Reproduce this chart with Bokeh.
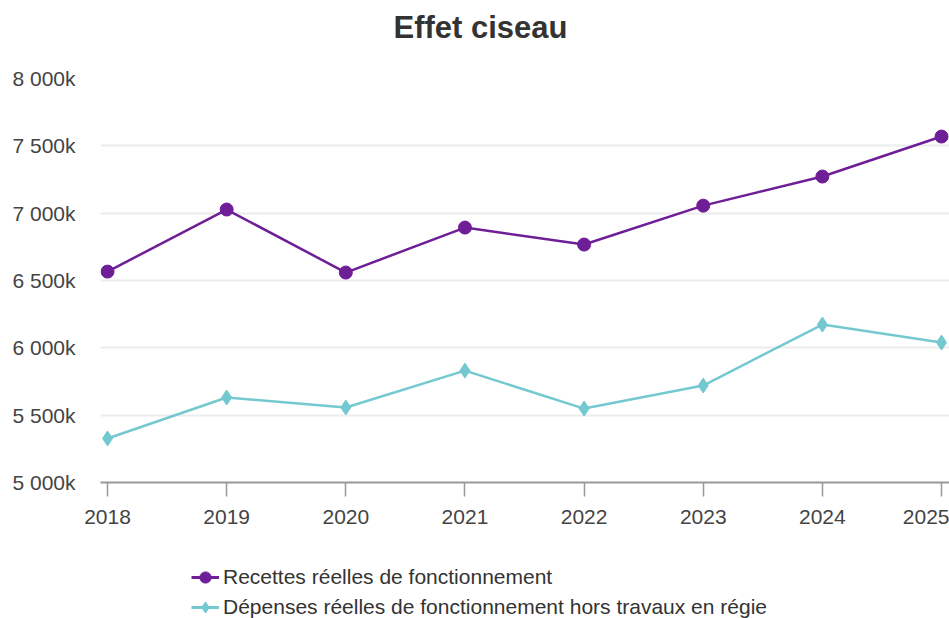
from bokeh.plotting import figure
from bokeh.layouts import column
from bokeh.models import FixedTicker, Legend, LegendItem, Range1d, Label
from bokeh.embed import file_html
from bokeh.resources import INLINE

years = [2018, 2019, 2020, 2021, 2022, 2023, 2024, 2025]
year_labels = ["2018", "2019", "2020", "2021", "2022", "2023", "2024", "2025"]
recettes = [6566, 7027, 6559, 6893, 6767, 7056, 7272, 7569]
depenses = [5327, 5631, 5557, 5831, 5549, 5720, 6173, 6039]
y_ticks = [5000, 5500, 6000, 6500, 7000, 7500, 8000]
y_tick_labels = ["5 000k", "5 500k", "6 000k", "6 500k", "7 000k", "7 500k", "8 000k"]
title_text = "Effet ciseau"
name_recettes = "Recettes réelles de fonctionnement"
name_depenses = "Dépenses réelles de fonctionnement hors travaux en régie"

PURPLE = "#6e1e97"
TEAL = "#74c8d0"
FONT = "Liberation Sans"


def blank(height):
    f = figure(width=949, height=height, output_backend="svg", toolbar_location=None,
               x_range=Range1d(0, 1), y_range=Range1d(0, 1),
               min_border_left=100, min_border_right=0, min_border_top=0,
               min_border_bottom=0)
    f.axis.visible = False
    f.grid.visible = False
    f.outline_line_color = None
    return f


# header with title
h = blank(60)
h.add_layout(Label(x=380, y=33, x_units="screen", y_units="screen", text=title_text,
                   text_align="center", text_baseline="middle", text_font=FONT,
                   text_font_size="31px", text_font_style="bold", text_color="#333333"))

# main chart
p = figure(width=949, height=480, output_backend="svg", toolbar_location=None,
           x_range=Range1d(2017.941, 2025.067), y_range=Range1d(5000, 8000),
           min_border_left=100, min_border_right=0, min_border_top=18,
           min_border_bottom=58)
p.outline_line_color = None
p.background_fill_color = "white"

p.xaxis.ticker = FixedTicker(ticks=years)
p.xaxis.major_label_overrides = {y: l for y, l in zip(years, year_labels)}
p.xaxis.axis_line_color = "#999999"
p.xaxis.axis_line_width = 2
p.xaxis.major_tick_line_color = "#999999"
p.xaxis.major_tick_line_width = 1.5
p.xaxis.major_tick_out = 14
p.xaxis.major_tick_in = 0
p.xaxis.minor_tick_line_color = None
p.xaxis.major_label_standoff = 13
p.xaxis.major_label_text_font = FONT
p.xaxis.major_label_text_font_size = "21px"
p.xaxis.major_label_text_color = "#444444"

p.yaxis.ticker = FixedTicker(ticks=y_ticks)
p.yaxis.major_label_overrides = {t: l for t, l in zip(y_ticks, y_tick_labels)}
p.yaxis.axis_line_color = None
p.yaxis.major_tick_line_color = None
p.yaxis.minor_tick_line_color = None
p.yaxis.major_label_standoff = 19
p.yaxis.major_label_text_font = FONT
p.yaxis.major_label_text_font_size = "21px"
p.yaxis.major_label_text_color = "#444444"

p.xgrid.grid_line_color = None
p.ygrid.grid_line_color = "#ececec"
p.ygrid.grid_line_width = 2

p.line(years, recettes, line_color=PURPLE, line_width=2.5)
p.scatter(years, recettes, marker="circle", size=13, fill_color=PURPLE, line_color=PURPLE)
p.line(years, depenses, line_color=TEAL, line_width=2.5)
p.scatter(years, depenses, marker="diamond", size=15, fill_color=TEAL, line_color=TEAL)

# legend panel (series drawn out of view, only for the legend glyphs)
q = blank(78)
ql1 = q.line(years, recettes, line_color=PURPLE, line_width=3)
qs1 = q.scatter(years, recettes, marker="circle", size=13, fill_color=PURPLE, line_color=PURPLE)
ql2 = q.line(years, depenses, line_color=TEAL, line_width=3)
qs2 = q.scatter(years, depenses, marker="diamond", size=15, fill_color=TEAL, line_color=TEAL)

legend = Legend(items=[LegendItem(label=name_recettes, renderers=[ql1, qs1]),
                       LegendItem(label=name_depenses, renderers=[ql2, qs2])],
                location=(91, -4), orientation="vertical",
                padding=0, margin=0, spacing=0, border_line_color=None,
                background_fill_alpha=0, glyph_width=28, glyph_height=30,
                label_height=30, label_standoff=4,
                label_text_font=FONT, label_text_font_size="21px",
                label_text_color="#333333")
q.add_layout(legend, "center")

open("out.html", "w").write(file_html(column(h, p, q, spacing=0), INLINE))
